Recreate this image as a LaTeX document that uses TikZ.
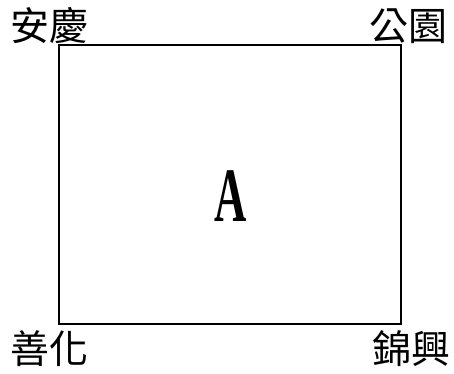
\documentclass[tikz,border=0pt]{standalone}
\usepackage{fontspec}
\newfontfamily\cjk{Noto Sans CJK TC}
\setmainfont{Liberation Serif}
\begin{document}
\begin{tikzpicture}[x=1pt,y=-1pt,
  lbl/.style={font=\cjk\fontsize{39}{42}\selectfont, inner sep=0pt}]
\useasboundingbox (0,0) rectangle (454,373);
\node[draw, line width=2.2pt, minimum width=342pt, minimum height=279pt, inner sep=0pt] (box) at (230,184.5) {};
\node[inner sep=0pt] (a) at (230.5,196) {\scalebox{0.58}[1]{\fontsize{77}{80}\selectfont\bfseries A}};
\node[lbl] (tl) at (49,26) {安慶};
\node[lbl] (tr) at (408,26) {公園};
\node[lbl] (bl) at (49,349) {善化};
\node[lbl] (br) at (411,349) {錦興};
\end{tikzpicture}
\end{document}
